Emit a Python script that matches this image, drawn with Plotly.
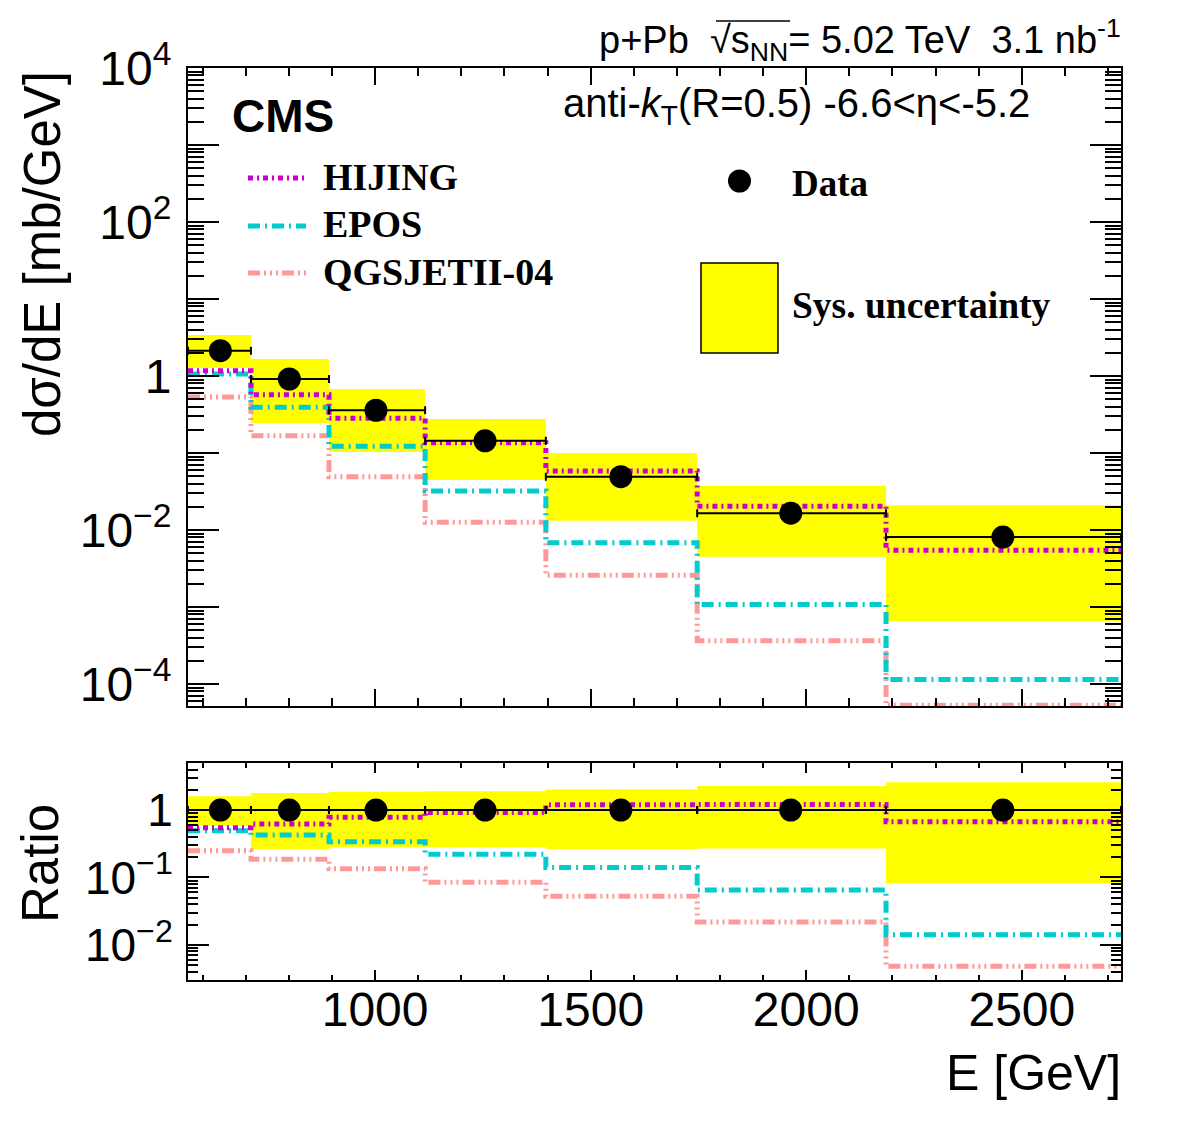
import plotly.graph_objects as go
import numpy as np

# ---------------- data ----------------
edges = [566, 712, 893, 1116, 1396, 1747, 2185, 2730]
centers = [641, 801, 1002, 1255, 1570, 1964, 2456]

data = [2.13, 0.914, 0.359, 0.144, 0.0492, 0.0165, 0.0081]
sys_hi = [3.41, 1.66, 0.678, 0.276, 0.100, 0.0373, 0.021]
sys_lo = [1.27, 0.245, 0.103, 0.0446, 0.0132, 0.0045, 0.00066]
hijing = [1.17, 0.57, 0.282, 0.136, 0.0584, 0.0203, 0.00545]
epos = [1.06, 0.392, 0.122, 0.0321, 0.00684, 0.00108, 0.000114]
qgsjet = [0.533, 0.168, 0.0493, 0.0126, 0.00258, 0.000365, 0.000053]

r_data = [1, 1, 1, 1, 1, 1, 1]
r_sys_hi = [1.61, 1.80, 1.87, 1.91, 2.02, 2.27, 2.60]
r_sys_lo = [0.586, 0.264, 0.28, 0.28, 0.264, 0.27, 0.082]
r_hijing = [0.547, 0.62, 0.78, 0.92, 1.20, 1.21, 0.67]
r_epos = [0.494, 0.426, 0.339, 0.22, 0.14, 0.0653, 0.0141]
r_qgsjet = [0.25, 0.186, 0.135, 0.085, 0.0526, 0.0217, 0.0048]

main_ticks = [1e-4, 1e-3, 1e-2, 1e-1, 1, 1e1, 1e2, 1e3, 1e4]
main_ticktext = ["10<sup>\u22124</sup>", " ", "10<sup>\u22122</sup>", " ", "1", " ", "10<sup>2</sup>", " ", "10<sup>4</sup>"]
ratio_ticks = [1e-2, 1e-1, 1]
ratio_ticktext = ["10<sup>\u22122</sup>", "10<sup>\u22121</sup>", "1"]
x_ticks = [1000, 1500, 2000, 2500]

# ---------------- styles ----------------
W, H = 1182, 1128
def px(x): return x / W
def py(y): return 1 - y / H

YELLOW = "#ffff00"
MAG = "#cc00cc"
CYAN = "#00cccc"
SALMON = "#ff9999"
DASH_H = "5px,4px,2px,4px"
DASH_E = "12px,5px,2px,5px"
DASH_Q = "12px,4px,2px,4px,2px,4px,2px,4px"
SANS = "Liberation Sans"
SERIF = "Liberation Serif"

fig = go.Figure()

def band(lo, hi, xa, ya):
    xs, ys = [], []
    for i in range(len(lo)):
        l, r = edges[i], edges[i + 1]
        xs += [l, r, r, l, l, None]
        ys += [lo[i], lo[i], hi[i], hi[i], lo[i], None]
    return go.Scatter(x=xs, y=ys, fill="toself", fillcolor=YELLOW, mode="lines",
                      line=dict(width=0), xaxis=xa, yaxis=ya, hoverinfo="skip", showlegend=False)

def step(vals, color, dash, xa, ya):
    return go.Scatter(x=edges, y=list(vals) + [vals[-1]], mode="lines", line_shape="hv",
                      line=dict(color=color, width=5, dash=dash), xaxis=xa, yaxis=ya, showlegend=False)

def points(vals, xa, ya):
    plus = [edges[i + 1] - centers[i] for i in range(len(centers))]
    minus = [centers[i] - edges[i] for i in range(len(centers))]
    return go.Scatter(x=centers, y=vals, mode="markers",
                      marker=dict(color="black", size=23),
                      error_x=dict(type="data", symmetric=False, array=plus, arrayminus=minus,
                                   color="black", thickness=2, width=4),
                      xaxis=xa, yaxis=ya, showlegend=False)

# main panel
fig.add_trace(band(sys_lo, sys_hi, "x", "y"))
fig.add_trace(step(qgsjet, SALMON, DASH_Q, "x", "y"))
fig.add_trace(step(epos, CYAN, DASH_E, "x", "y"))
fig.add_trace(step(hijing, MAG, DASH_H, "x", "y"))
fig.add_trace(points(data, "x", "y"))

# ratio panel
fig.add_trace(band(r_sys_lo, r_sys_hi, "x2", "y2"))
fig.add_trace(step(r_qgsjet, SALMON, DASH_Q, "x2", "y2"))
fig.add_trace(step(r_epos, CYAN, DASH_E, "x2", "y2"))
fig.add_trace(step(r_hijing, MAG, DASH_H, "x2", "y2"))
fig.add_trace(points(r_data, "x2", "y2"))

def minor_log(lo_exp, hi_exp):
    return [m * 10.0 ** e for e in range(lo_exp, hi_exp) for m in range(2, 10)]

xdom = [px(188), px(1121)]
axis_common = dict(showline=True, linecolor="black", linewidth=2, mirror="allticks",
                   ticks="inside", tickcolor="black", tickwidth=2, showgrid=False, zeroline=False)

fig.update_layout(
    width=W, height=H, margin=dict(l=0, r=0, t=0, b=0, autoexpand=False),
    paper_bgcolor="white", plot_bgcolor="white", showlegend=False,
    xaxis=dict(domain=xdom, range=[566, 2730], anchor="y", tickvals=x_ticks, ticklen=17,
               showticklabels=False,
               minor=dict(dtick=100, tick0=0, ticks="inside", ticklen=8, tickcolor="black", tickwidth=2, showgrid=False),
               **axis_common),
    yaxis=dict(domain=[py(706), py(68)], type="log", range=[-4.286, 4.0], anchor="x",
               tickvals=main_ticks, ticktext=main_ticktext, ticklen=31, ticklabelstandoff=5,
               tickfont=dict(family=SANS, size=48, color="black"),
               minor=dict(tickvals=minor_log(-5, 4), ticks="inside", ticklen=16, tickcolor="black", tickwidth=2, showgrid=False),
               **axis_common),
    xaxis2=dict(domain=xdom, range=[566, 2730], anchor="y2", tickvals=x_ticks, ticklen=10,
                tickfont=dict(family=SANS, size=48, color="black"), ticklabelstandoff=-14,
                minor=dict(dtick=100, tick0=0, ticks="inside", ticklen=5, tickcolor="black", tickwidth=2, showgrid=False),
                **axis_common),
    yaxis2=dict(domain=[py(980), py(763)], type="log", range=[np.log10(0.003), np.log10(5)], anchor="x2",
                tickvals=ratio_ticks, ticktext=ratio_ticktext, ticklen=21, ticklabelstandoff=4,
                tickfont=dict(family=SANS, size=46, color="black"),
                minor=dict(tickvals=minor_log(-3, 1), ticks="inside", ticklen=10, tickcolor="black", tickwidth=2, showgrid=False),
                **axis_common),
)

ann = []
def text(x, y, s, size, family=SANS, xanchor="left", yanchor="middle", angle=0):
    ann.append(dict(x=px(x), y=py(y), xref="paper", yref="paper", text=s, showarrow=False,
                    xanchor=xanchor, yanchor=yanchor, textangle=angle,
                    font=dict(family=family, size=size, color="black")))

text(1123, 40, "p+Pb\u00a0\u00a0\u221as<sub>NN</sub>= 5.02 TeV\u00a0\u00a03.1 nb<sup>-1</sup>", 38, xanchor="right")
text(561, 106, "anti-<i>k</i><sub>T</sub>(R=0.5) -6.6&lt;\u03b7&lt;-5.2", 40)
text(230, 116, "<b>CMS</b>", 46)
text(321, 177, "<b>HIJING</b>", 38, family=SERIF)
text(321, 224, "<b>EPOS</b>", 38, family=SERIF)
text(321, 272, "<b>QGSJETII-04</b>", 38, family=SERIF)
text(790, 183, "<b>Data</b>", 37, family=SERIF)
text(790, 306, "<b>Sys. uncertainty</b>", 37.5, family=SERIF)
text(1123, 1073, "E [GeV]", 50, xanchor="right")
text(42, 254, "d\u03c3/dE [mb/GeV]", 51, xanchor="center", angle=-90)
text(40, 864, "Ratio", 51, xanchor="center", angle=-90)

shapes = []
for yy, col, dash in [(178, MAG, DASH_H), (226, CYAN, DASH_E), (273, SALMON, DASH_Q)]:
    shapes.append(dict(type="line", xref="paper", yref="paper", x0=px(248), x1=px(306), y0=py(yy), y1=py(yy),
                       line=dict(color=col, width=5, dash=dash)))
shapes.append(dict(type="circle", xref="paper", yref="paper", x0=px(728), x1=px(751), y0=py(192.5), y1=py(169.5),
                   fillcolor="black", line=dict(color="black", width=0)))
shapes.append(dict(type="rect", xref="paper", yref="paper", x0=px(701), x1=px(778), y0=py(353), y1=py(263),
                   fillcolor=YELLOW, line=dict(color="black", width=1.5)))
shapes.append(dict(type="line", xref="paper", yref="paper", x0=px(716), x1=px(790), y0=py(21), y1=py(21),
                   line=dict(color="black", width=1.5)))

fig.update_layout(annotations=ann, shapes=shapes)
fig.write_html("out.html")
